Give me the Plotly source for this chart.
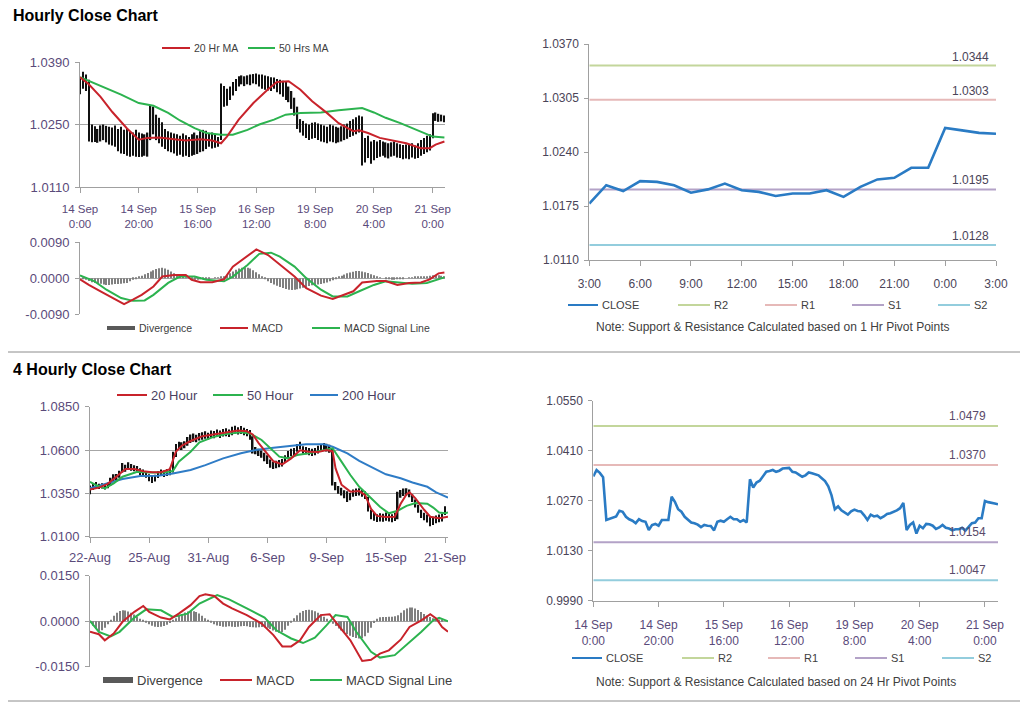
import plotly.graph_objects as go

W, H = 1024, 704
FONT = "Liberation Sans, Arial, sans-serif"
TICK_PURPLE = "#5a4a7a"
TICK_GREY = "#4a4458"
LEGEND_TXT = "#404040"
AXIS_GREY = "#a0a0a0"

RED = "#c8232b"
GREEN = "#2cb34f"
BLUE = "#2f7cc6"
CLOSE_BLUE = "#2a7bc4"
DIV_GREY = "#7f7f7f"

# ---------------- Hourly data: 14 Sep 0:00 ... 21 Sep 4:00 (one per hour) ----------------
hourly_close = [
    1.0338, 1.0356, 1.0348, 1.0336, 1.0216, 1.0220, 1.0223, 1.0226, 1.0242, 1.0239,
    1.0225, 1.0218, 1.0214, 1.0207, 1.0218, 1.0213, 1.0211, 1.0188, 1.0202, 1.0205,
    1.0200, 1.0216, 1.0216, 1.0216, 1.0281, 1.0267, 1.0246, 1.0239, 1.0225, 1.0216,
    1.0209, 1.0207, 1.0203, 1.0196, 1.0202, 1.0200, 1.0199, 1.0187, 1.0211, 1.0214,
    1.0211, 1.0218, 1.0225, 1.0218, 1.0218, 1.0211, 1.0216, 1.0209, 1.0330, 1.0307,
    1.0321, 1.0326, 1.0339, 1.0351, 1.0353, 1.0356, 1.0351, 1.0354, 1.0360, 1.0361,
    1.0362, 1.0351, 1.0349, 1.0343, 1.0337, 1.0341, 1.0349, 1.0347, 1.0345, 1.0341,
    1.0333, 1.0325, 1.0310, 1.0285, 1.0246, 1.0254, 1.0243, 1.0238, 1.0231, 1.0240,
    1.0245, 1.0241, 1.0240, 1.0229, 1.0216, 1.0231, 1.0226, 1.0228, 1.0221, 1.0226,
    1.0233, 1.0235, 1.0238, 1.0243, 1.0249, 1.0264, 1.0188, 1.0202, 1.0209, 1.0178,
    1.0200, 1.0193, 1.0205, 1.0204, 1.0200, 1.0191, 1.0195, 1.0202, 1.0194, 1.0192,
    1.0187, 1.0190, 1.0190, 1.0194, 1.0186, 1.0198, 1.0207, 1.0209, 1.0221, 1.0221,
    1.0269, 1.0266, 1.0263, 1.0262, 1.0260]
hourly_high = [
    1.0355, 1.0368, 1.0362, 1.0350, 1.0250, 1.0246, 1.0240, 1.0248, 1.0250, 1.0247,
    1.0245, 1.0243, 1.0248, 1.0240, 1.0245, 1.0238, 1.0242, 1.0235, 1.0232, 1.0238,
    1.0232, 1.0230, 1.0228, 1.0232, 1.0292, 1.0290, 1.0272, 1.0265, 1.0255, 1.0240,
    1.0235, 1.0232, 1.0230, 1.0228, 1.0225, 1.0230, 1.0226, 1.0222, 1.0228, 1.0232,
    1.0226, 1.0235, 1.0238, 1.0236, 1.0230, 1.0232, 1.0228, 1.0222, 1.0342, 1.0336,
    1.0330, 1.0335, 1.0345, 1.0352, 1.0358, 1.0360, 1.0358, 1.0360, 1.0362, 1.0363,
    1.0364, 1.0362, 1.0362, 1.0360, 1.0358, 1.0356, 1.0355, 1.0352, 1.0350, 1.0348,
    1.0345, 1.0335, 1.0325, 1.0310, 1.0290, 1.0262, 1.0258, 1.0252, 1.0250, 1.0254,
    1.0255, 1.0252, 1.0250, 1.0248, 1.0245, 1.0250, 1.0248, 1.0245, 1.0243, 1.0246,
    1.0250, 1.0252, 1.0258, 1.0262, 1.0266, 1.0270, 1.0268, 1.0220, 1.0225, 1.0212,
    1.0215, 1.0212, 1.0215, 1.0212, 1.0210, 1.0208, 1.0210, 1.0212, 1.0208, 1.0206,
    1.0204, 1.0205, 1.0204, 1.0208, 1.0203, 1.0208, 1.0215, 1.0220, 1.0225, 1.0228,
    1.0275, 1.0277, 1.0274, 1.0272, 1.0270]
hourly_low = [
    1.0318, 1.0330, 1.0325, 1.0212, 1.0210, 1.0211, 1.0209, 1.0212, 1.0215, 1.0210,
    1.0205, 1.0203, 1.0200, 1.0190, 1.0185, 1.0184, 1.0180, 1.0178, 1.0180, 1.0178,
    1.0177, 1.0178, 1.0180, 1.0178, 1.0215, 1.0228, 1.0215, 1.0208, 1.0200, 1.0195,
    1.0190, 1.0188, 1.0185, 1.0180, 1.0182, 1.0178, 1.0180, 1.0177, 1.0180, 1.0182,
    1.0184, 1.0188, 1.0190, 1.0195, 1.0200, 1.0196, 1.0198, 1.0200, 1.0215, 1.0290,
    1.0292, 1.0305, 1.0315, 1.0325, 1.0335, 1.0340, 1.0336, 1.0340, 1.0338, 1.0342,
    1.0340, 1.0335, 1.0330, 1.0328, 1.0326, 1.0325, 1.0330, 1.0322, 1.0318, 1.0312,
    1.0305, 1.0300, 1.0285, 1.0270, 1.0240, 1.0232, 1.0225, 1.0220, 1.0215, 1.0218,
    1.0220, 1.0215, 1.0212, 1.0210, 1.0208, 1.0212, 1.0210, 1.0208, 1.0210, 1.0212,
    1.0215, 1.0218, 1.0222, 1.0225, 1.0228, 1.0232, 1.0158, 1.0165, 1.0175, 1.0162,
    1.0170, 1.0175, 1.0178, 1.0180, 1.0176, 1.0174, 1.0178, 1.0180, 1.0176, 1.0175,
    1.0172, 1.0174, 1.0172, 1.0176, 1.0173, 1.0175, 1.0180, 1.0184, 1.0188, 1.0192,
    1.0219, 1.0258, 1.0256, 1.0257, 1.0255]
hourly_tick_pos = [0, 20, 40, 60, 80, 100, 120]
hourly_tick_labels = ["14 Sep<br>0:00", "14 Sep<br>20:00", "15 Sep<br>16:00", "16 Sep<br>12:00",
                      "19 Sep<br>8:00", "20 Sep<br>4:00", "21 Sep<br>0:00"]

ma20_hr_idx = [0, 3, 7, 11, 16, 20, 23, 27, 32, 36, 41, 45, 48, 50, 54, 59, 64, 67, 71, 75,
               79, 84, 88, 93, 95, 98, 102, 107, 111, 116, 119, 121, 124]
ma20_hr = [1.0356, 1.0340, 1.0312, 1.0278, 1.0241, 1.0216, 1.0220, 1.0221, 1.0217, 1.0214,
           1.0217, 1.0214, 1.0208, 1.0223, 1.0261, 1.0298, 1.0329, 1.0345, 1.0347, 1.0328,
           1.0302, 1.0276, 1.0253, 1.0235, 1.0237, 1.0231, 1.0220, 1.0214, 1.0208, 1.0197,
           1.0197, 1.0205, 1.0212]
ma50_hr_idx = [0, 7, 14, 20, 25, 30, 34, 39, 43, 48, 52, 57, 61, 66, 70, 75, 82, 88, 96, 100,
               104, 109, 113, 118, 120, 124]
ma50_hr = [1.0356, 1.0337, 1.0317, 1.0298, 1.0292, 1.0276, 1.0259, 1.0242, 1.0231, 1.0227,
           1.0227, 1.0238, 1.0250, 1.0261, 1.0272, 1.0276, 1.0277, 1.0282, 1.0287, 1.0277,
           1.0265, 1.0253, 1.0242, 1.0229, 1.0223, 1.0221]

macd_hr_idx = [0, 3, 7, 11, 15, 18, 21, 25, 28, 32, 36, 38, 41, 45, 49, 52, 56, 60, 64, 68,
               73, 77, 82, 86, 88, 93, 96, 101, 104, 108, 112, 116, 119, 122, 124]
macd_hr = [-0.0003, -0.0017, -0.0033, -0.0050, -0.0065, -0.0054, -0.0042, -0.0021, 0.0004, 0.0008,
           0.0008, -0.0004, -0.0010, -0.0010, -0.0003, 0.0029, 0.0050, 0.0072, 0.0058, 0.0033,
           0.0004, -0.0025, -0.0044, -0.0052, -0.0046, -0.0033, -0.0011, -0.0007, -0.0007, -0.0017,
           -0.0012, -0.0011, -0.0003, 0.0012, 0.0014]
signal_hr_idx = [0, 5, 9, 14, 18, 22, 25, 30, 34, 39, 43, 49, 52, 57, 61, 65, 68, 73, 77, 82,
                 86, 91, 95, 100, 104, 109, 113, 118, 124]
signal_hr = [0.0007, -0.0008, -0.0029, -0.0050, -0.0057, -0.0056, -0.0042, -0.0012, 0.0004, 0.0004,
             -0.0004, -0.0008, 0.0004, 0.0033, 0.0061, 0.0064, 0.0054, 0.0029, 0.0000, -0.0029,
             -0.0046, -0.0046, -0.0033, -0.0017, -0.0008, -0.0012, -0.0014, -0.0012, 0.0002]
divergence_hr = [
    0.0000, -0.0002, -0.0004, -0.0007, -0.0010, -0.0012, -0.0013, -0.0014, -0.0016, -0.0017,
    -0.0017, -0.0016, -0.0015, -0.0015, -0.0014, -0.0013, -0.0012, -0.0008, -0.0004, -0.0001,
    0.0003, 0.0006, 0.0010, 0.0013, 0.0017, 0.0020, 0.0023, 0.0025, 0.0026, 0.0024,
    0.0021, 0.0017, 0.0012, 0.0007, 0.0004, 0.0003, 0.0002, 0.0000, -0.0002, -0.0004,
    -0.0004, -0.0003, -0.0002, -0.0002, -0.0001, 0.0000, 0.0001, 0.0002, 0.0003, 0.0005,
    0.0008, 0.0012, 0.0017, 0.0021, 0.0024, 0.0026, 0.0027, 0.0026, 0.0024, 0.0020,
    0.0015, 0.0010, 0.0004, -0.0003, -0.0008, -0.0012, -0.0016, -0.0019, -0.0022, -0.0025,
    -0.0027, -0.0029, -0.0030, -0.0029, -0.0028, -0.0026, -0.0024, -0.0022, -0.0020, -0.0018,
    -0.0017, -0.0016, -0.0015, -0.0013, -0.0011, -0.0008, -0.0005, -0.0002, 0.0003, 0.0006,
    0.0009, 0.0012, 0.0014, 0.0016, 0.0018, 0.0018, 0.0017, 0.0015, 0.0013, 0.0010,
    0.0007, 0.0004, 0.0002, 0.0000, -0.0002, -0.0003, -0.0004, -0.0004, -0.0003, -0.0002,
    -0.0001, 0.0000, 0.0001, 0.0002, 0.0003, 0.0003, 0.0004, 0.0004, 0.0005, 0.0006,
    0.0007, 0.0008, 0.0007, 0.0006, 0.0005]

# ---------------- Last 24 hours (20 Sep 3:00 ... 21 Sep 3:00) ----------------
day_start = 99
day_tick_labels = ["3:00", "6:00", "9:00", "12:00", "15:00", "18:00", "21:00", "0:00", "3:00"]

# ---------------- Pivot points ----------------
pivot_names = ["R2", "R1", "S1", "S2"]
pivots_1h = [1.0344, 1.0303, 1.0195, 1.0128]
pivots_24h = [1.0479, 1.0370, 1.0154, 1.0047]
pivot_colors = ["#c3d69b", "#e6b9b8", "#b3a2c7", "#93cddd"]

# ---------------- 4-hourly data: 22 Aug ... 21 Sep ----------------
fourh_high = [
    1.0395, 1.0410, 1.0415, 1.0405, 1.0408, 1.0400, 1.0412, 1.0440, 1.0460, 1.0462,
    1.0480, 1.0525, 1.0515, 1.0530, 1.0520, 1.0512, 1.0508, 1.0495, 1.0488, 1.0478,
    1.0460, 1.0452, 1.0458, 1.0478, 1.0488, 1.0482, 1.0490, 1.0498, 1.0590, 1.0635,
    1.0648, 1.0645, 1.0650, 1.0675, 1.0690, 1.0695, 1.0688, 1.0698, 1.0702, 1.0708,
    1.0700, 1.0712, 1.0710, 1.0718, 1.0712, 1.0722, 1.0725, 1.0718, 1.0735, 1.0740,
    1.0732, 1.0738, 1.0728, 1.0722, 1.0715, 1.0680, 1.0618, 1.0608, 1.0598, 1.0585,
    1.0570, 1.0545, 1.0532, 1.0538, 1.0542, 1.0548, 1.0570, 1.0595, 1.0608, 1.0612,
    1.0635, 1.0648, 1.0622, 1.0618, 1.0612, 1.0608, 1.0612, 1.0625, 1.0635, 1.0640,
    1.0636, 1.0630, 1.0610, 1.0415, 1.0392, 1.0382, 1.0368, 1.0362, 1.0352, 1.0372,
    1.0378, 1.0380, 1.0372, 1.0362, 1.0330, 1.0255, 1.0240, 1.0230, 1.0235, 1.0232,
    1.0240, 1.0235, 1.0230, 1.0238, 1.0360, 1.0370, 1.0378, 1.0380, 1.0372, 1.0345,
    1.0315, 1.0285, 1.0255, 1.0238, 1.0228, 1.0220, 1.0215, 1.0222, 1.0228, 1.0232,
    1.0275]
fourh_low = [
    1.0345, 1.0370, 1.0380, 1.0375, 1.0378, 1.0372, 1.0380, 1.0395, 1.0420, 1.0425,
    1.0440, 1.0470, 1.0475, 1.0485, 1.0480, 1.0478, 1.0472, 1.0455, 1.0450, 1.0440,
    1.0420, 1.0410, 1.0418, 1.0438, 1.0452, 1.0445, 1.0450, 1.0455, 1.0470, 1.0560,
    1.0605, 1.0600, 1.0610, 1.0625, 1.0640, 1.0648, 1.0645, 1.0655, 1.0660, 1.0665,
    1.0660, 1.0670, 1.0668, 1.0675, 1.0670, 1.0678, 1.0680, 1.0675, 1.0685, 1.0695,
    1.0690, 1.0692, 1.0685, 1.0680, 1.0660, 1.0580, 1.0575, 1.0565, 1.0555, 1.0535,
    1.0520, 1.0498, 1.0490, 1.0495, 1.0500, 1.0505, 1.0525, 1.0550, 1.0565, 1.0570,
    1.0590, 1.0605, 1.0580, 1.0575, 1.0570, 1.0565, 1.0570, 1.0580, 1.0590, 1.0595,
    1.0592, 1.0585, 1.0395, 1.0368, 1.0348, 1.0338, 1.0322, 1.0300, 1.0310, 1.0330,
    1.0335, 1.0338, 1.0330, 1.0318, 1.0245, 1.0200, 1.0192, 1.0185, 1.0188, 1.0186,
    1.0192, 1.0188, 1.0184, 1.0190, 1.0200, 1.0325, 1.0335, 1.0338, 1.0328, 1.0300,
    1.0268, 1.0238, 1.0208, 1.0195, 1.0182, 1.0160, 1.0168, 1.0178, 1.0183, 1.0188,
    1.0225]
fourh_tick_pos = [0, 20, 40, 60, 80, 100, 120]
fourh_tick_labels = ["22-Aug", "25-Aug", "31-Aug", "6-Sep", "9-Sep", "15-Sep", "21-Sep"]

ma20_4h_idx = [0, 3, 6, 9, 12, 15, 18, 21, 24, 27, 29, 31, 34, 38, 42, 46, 50, 53, 55, 57,
               60, 62, 65, 68, 71, 74, 77, 80, 82, 83, 85, 88, 91, 93, 95, 97, 100, 103, 105, 107,
               108, 110, 113, 115, 118, 121]
ma20_4h = [1.0372, 1.0383, 1.0405, 1.0446, 1.0490, 1.0490, 1.0478, 1.0472, 1.0472, 1.0490,
           1.0590, 1.0625, 1.0652, 1.0680, 1.0692, 1.0702, 1.0712, 1.0708, 1.0690, 1.0640,
           1.0580, 1.0535, 1.0517, 1.0552, 1.0598, 1.0590, 1.0588, 1.0600, 1.0592, 1.0494,
           1.0400, 1.0360, 1.0363, 1.0340, 1.0260, 1.0220, 1.0213, 1.0215, 1.0290, 1.0345,
           1.0356, 1.0321, 1.0254, 1.0215, 1.0206, 1.0215]
ma50_4h_idx = [0, 2, 5, 8, 11, 16, 20, 25, 28, 30, 34, 37, 42, 46, 51, 54, 58, 61, 64, 67,
               70, 74, 79, 82, 85, 88, 91, 95, 98, 101, 104, 107, 110, 114, 116, 118, 120, 121]
ma50_4h = [1.0417, 1.0398, 1.0379, 1.0408, 1.0446, 1.0475, 1.0471, 1.0471, 1.0479, 1.0533,
           1.0590, 1.0644, 1.0677, 1.0692, 1.0702, 1.0696, 1.0658, 1.0610, 1.0562, 1.0552,
           1.0571, 1.0581, 1.0600, 1.0610, 1.0533, 1.0456, 1.0388, 1.0321, 1.0273, 1.0235,
           1.0250, 1.0278, 1.0294, 1.0290, 1.0268, 1.0240, 1.0236, 1.0240]
ma200_4h_idx = [0, 6, 11, 17, 23, 28, 34, 39, 45, 51, 56, 62, 68, 73, 79, 82, 87, 91, 96, 100,
                105, 109, 114, 117, 121]
ma200_4h = [1.0379, 1.0408, 1.0433, 1.0450, 1.0452, 1.0465, 1.0485, 1.0513, 1.0552, 1.0581,
            1.0600, 1.0613, 1.0625, 1.0633, 1.0633, 1.0619, 1.0581, 1.0537, 1.0494, 1.0460,
            1.0437, 1.0413, 1.0388, 1.0356, 1.0325]

macd_4h_idx = [0, 3, 5, 8, 11, 15, 18, 20, 24, 27, 30, 34, 37, 39, 42, 45, 48, 53, 58, 62,
               65, 68, 71, 74, 78, 81, 83, 88, 92, 95, 98, 101, 105, 108, 112, 115, 117, 119, 121]
macd_4h = [-0.0035, -0.0043, -0.0063, -0.0041, -0.0002, 0.0031, 0.0050, 0.0031, 0.0012, 0.0006,
           0.0025, 0.0053, 0.0083, 0.0089, 0.0083, 0.0058, 0.0042, 0.0020, -0.0008, -0.0046,
           -0.0083, -0.0083, -0.0063, -0.0019, 0.0020, 0.0023, -0.0002, -0.0063, -0.0131, -0.0127,
           -0.0107, -0.0096, -0.0061, -0.0019, 0.0003, 0.0023, 0.0009, -0.0019, -0.0035]
signal_4h_idx = [0, 3, 7, 10, 15, 19, 24, 28, 33, 37, 43, 47, 53, 59, 63, 68, 72, 76, 80, 83,
                 87, 90, 95, 98, 103, 107, 112, 116, 118, 121]
signal_4h = [0.0001, -0.0035, -0.0050, -0.0035, 0.0012, 0.0039, 0.0036, 0.0014, 0.0025, 0.0058,
             0.0086, 0.0072, 0.0042, 0.0012, -0.0030, -0.0057, -0.0072, -0.0054, -0.0013, 0.0020,
             0.0014, -0.0035, -0.0101, -0.0120, -0.0112, -0.0079, -0.0035, 0.0003, 0.0011, 0.0000]
divergence_4h = [
    -0.0005, -0.0015, -0.0025, -0.0032, -0.0030, -0.0022, -0.0010, 0.0005, 0.0018, 0.0028,
    0.0034, 0.0036, 0.0035, 0.0032, 0.0028, 0.0022, 0.0015, 0.0008, 0.0002, -0.0004,
    -0.0010, -0.0015, -0.0018, -0.0019, -0.0018, -0.0016, -0.0012, -0.0006, 0.0002, 0.0010,
    0.0018, 0.0024, 0.0029, 0.0032, 0.0034, 0.0033, 0.0030, 0.0025, 0.0018, 0.0010,
    0.0003, -0.0004, -0.0010, -0.0014, -0.0016, -0.0018, -0.0018, -0.0017, -0.0018, -0.0019,
    -0.0018, -0.0017, -0.0016, -0.0017, -0.0019, -0.0020, -0.0021, -0.0020, -0.0019, -0.0020,
    -0.0022, -0.0026, -0.0031, -0.0035, -0.0038, -0.0036, -0.0028, -0.0015, -0.0002, 0.0010,
    0.0020, 0.0028, 0.0034, 0.0037, 0.0038, 0.0036, 0.0033, 0.0028, 0.0022, 0.0015,
    0.0008, 0.0001, -0.0008, -0.0016, -0.0024, -0.0031, -0.0037, -0.0043, -0.0048, -0.0052,
    -0.0055, -0.0057, -0.0056, -0.0050, -0.0038, -0.0022, -0.0006, 0.0008, 0.0013, 0.0014,
    0.0014, 0.0015, 0.0015, 0.0016, 0.0020, 0.0028, 0.0036, 0.0042, 0.0045, 0.0045,
    0.0042, 0.0037, 0.0030, 0.0024, 0.0019, 0.0014, 0.0010, 0.0008, 0.0006, 0.0003,
    0.0000]

# ---------------- helpers ----------------
hour_idx = list(range(len(hourly_close)))
fourh_idx = list(range(len(fourh_high)))
day_close = hourly_close[day_start:day_start + 25]
day_idx = list(range(len(day_close)))


def px(x):
    return x / W


def py(y):
    return 1 - y / H


fig = go.Figure()


def line(x, y, color, ax, width=2.0):
    fig.add_trace(go.Scatter(x=x, y=y, mode="lines", line=dict(color=color, width=width),
                             xaxis="x" + ax, yaxis="y" + ax, hoverinfo="skip", showlegend=False))


def hl_bars(x, hi, lo, ax, width):
    fig.add_trace(go.Bar(x=x, y=[h - l for h, l in zip(hi, lo)], base=lo, width=width,
                         marker=dict(color="#111111", line=dict(width=0)),
                         xaxis="x" + ax, yaxis="y" + ax, hoverinfo="skip", showlegend=False))


def div_bars(x, y, ax, width):
    fig.add_trace(go.Bar(x=x, y=y, width=width, marker=dict(color=DIV_GREY, line=dict(width=0)),
                         xaxis="x" + ax, yaxis="y" + ax, hoverinfo="skip", showlegend=False))


# Top-left: hourly bars + MAs
hl_bars(hour_idx, hourly_high, hourly_low, "", 0.45)
line(ma50_hr_idx, ma50_hr, GREEN, "")
line(ma20_hr_idx, ma20_hr, RED, "")
# Top-left MACD
div_bars(hour_idx, divergence_hr, "2", 0.35)
line(signal_hr_idx, signal_hr, GREEN, "2")
line(macd_hr_idx, macd_hr, RED, "2")
# Top-right: 24h close with 1h pivots
for v, c in zip(pivots_1h, pivot_colors):
    line([day_idx[0], day_idx[-1]], [v, v], c, "3", 2)
line(day_idx, day_close, CLOSE_BLUE, "3", 2.6)
# Bottom-left: 4 hourly bars + MAs
hl_bars(fourh_idx, fourh_high, fourh_low, "4", 0.5)
line(ma200_4h_idx, ma200_4h, BLUE, "4")
line(ma50_4h_idx, ma50_4h, GREEN, "4")
line(ma20_4h_idx, ma20_4h, RED, "4")
# Bottom-left MACD
div_bars(fourh_idx, divergence_4h, "5", 0.35)
line(signal_4h_idx, signal_4h, GREEN, "5")
line(macd_4h_idx, macd_4h, RED, "5")
# Bottom-right: hourly close with 24h pivots
for v, c in zip(pivots_24h, pivot_colors):
    line([hour_idx[0], hour_idx[-1]], [v, v], c, "6", 2)
line(hour_idx, hourly_close, CLOSE_BLUE, "6", 2.6)


def xax(dom, rng, anchor, tickvals=None, ticktext=None, show=True, size=12, color=TICK_PURPLE,
        standoff=4):
    d = dict(domain=[px(dom[0]), px(dom[1])], range=rng, showgrid=False, zeroline=False,
             fixedrange=True, automargin=False, anchor=anchor)
    if show:
        d.update(tickmode="array", tickvals=tickvals, ticktext=ticktext, ticks="outside", ticklen=5,
                 tickcolor=AXIS_GREY, showline=True, linecolor=AXIS_GREY, linewidth=1,
                 tickfont=dict(family=FONT, size=size, color=color), ticklabelstandoff=standoff)
    else:
        d.update(showticklabels=False, ticks="", showline=False)
    return d


def yax(dom, rng, tickvals, ticktext, anchor, grid=True, size=12, color=TICK_PURPLE):
    return dict(domain=[py(dom[1]), py(dom[0])], range=rng, tickmode="array", tickvals=tickvals,
                ticktext=ticktext, showgrid=grid, gridcolor="#a6a6a6", gridwidth=1, zeroline=False,
                showline=True, linecolor=AXIS_GREY, linewidth=1, ticks="outside", ticklen=4,
                tickcolor=AXIS_GREY, tickfont=dict(family=FONT, size=size, color=color),
                anchor=anchor, fixedrange=True, automargin=False, ticklabelstandoff=3)


def fmt(vals):
    return [("-" if v < 0 else "") + f"{abs(v):.4f}" for v in vals]


y1_ticks = [1.0110, 1.0250, 1.0390]
y2_ticks = [-0.0090, 0.0, 0.0090]
y3_ticks = [1.0110, 1.0175, 1.0240, 1.0305, 1.0370]
y4_ticks = [1.0100, 1.0350, 1.0600, 1.0850]
y5_ticks = [-0.0150, 0.0, 0.0150]
y6_ticks = [0.9990, 1.0130, 1.0270, 1.0410, 1.0550]

fig.update_layout(
    template="none",
    width=W, height=H, margin=dict(l=0, r=0, t=0, b=0, pad=0, autoexpand=False),
    paper_bgcolor="white", plot_bgcolor="white", showlegend=False, barmode="overlay",
    xaxis=xax((80, 445), [0, 124.2], "y", hourly_tick_pos, hourly_tick_labels, size=11.5, standoff=6),
    yaxis=yax((62, 187), [1.0110, 1.0390], y1_ticks, fmt(y1_ticks), "x", size=13),
    xaxis2=xax((80, 445), [0, 124.2], "y2", show=False),
    yaxis2=yax((242.3, 314), [-0.0090, 0.0090], y2_ticks, fmt(y2_ticks), "x2", size=13),
    xaxis3=xax((589.3, 996), [0, 24], "y3", list(range(0, 25, 3)), day_tick_labels, size=12,
               color=TICK_GREY, standoff=8),
    yaxis3=yax((44, 260), [1.0110, 1.0370], y3_ticks, fmt(y3_ticks), "x3", grid=False, size=12,
               color=TICK_GREY),
    xaxis4=xax((90, 448), [0, 121], "y4", fourh_tick_pos, fourh_tick_labels, size=13, standoff=4),
    yaxis4=yax((406.7, 536.7), [1.0100, 1.0850], y4_ticks, fmt(y4_ticks), "x4", size=13),
    xaxis5=xax((90, 448), [0, 121], "y5", show=False),
    yaxis5=yax((575.7, 666.7), [-0.0150, 0.0150], y5_ticks, fmt(y5_ticks), "x5", size=13),
    xaxis6=xax((593.3, 998), [0, 124], "y6", hourly_tick_pos, hourly_tick_labels, size=12, standoff=8),
    yaxis6=yax((400.7, 600.7), [0.9990, 1.0550], y6_ticks, fmt(y6_ticks), "x6", grid=False, size=12,
               color=TICK_GREY),
)

shapes = []
annotations = []


def leg_line(x0, x1, y, color, width=2):
    shapes.append(dict(type="line", xref="paper", yref="paper", x0=px(x0), x1=px(x1),
                       y0=py(y), y1=py(y), line=dict(color=color, width=width)))


def leg_text(x, y, text, size, color=LEGEND_TXT, anchor="left"):
    annotations.append(dict(xref="paper", yref="paper", x=px(x), y=py(y), text=text,
                            showarrow=False, xanchor=anchor, yanchor="middle",
                            font=dict(family=FONT, size=size, color=color)))


# titles
annotations.append(dict(xref="paper", yref="paper", x=px(11), y=py(16), text="<b>Hourly Close Chart</b>",
                        showarrow=False, xanchor="left", yanchor="middle",
                        font=dict(family=FONT, size=16, color="black")))
annotations.append(dict(xref="paper", yref="paper", x=px(11), y=py(369), text="<b>4 Hourly Close Chart</b>",
                        showarrow=False, xanchor="left", yanchor="middle",
                        font=dict(family=FONT, size=16, color="black")))

# separators
for yy in (352, 701):
    shapes.append(dict(type="line", xref="paper", yref="paper", x0=px(8), x1=px(1020),
                       y0=py(yy), y1=py(yy), line=dict(color="#8c8c8c", width=1)))

# Top-left legends
leg_line(162, 190, 48, RED)
leg_text(192, 48, "20 Hr MA", 10.5)
leg_line(248, 275, 48, GREEN)
leg_text(277, 48, "50 Hrs MA", 10.5)
leg_line(107, 135, 328, "#595959", 4)
leg_text(137, 328, "Divergence", 10.5)
leg_line(220, 248, 328, RED)
leg_text(250, 328, "MACD", 10.5)
leg_line(312, 340, 328, GREEN)
leg_text(342, 328, "MACD Signal Line", 10.5)

# Top-right legend
leg_line(568, 598, 305, CLOSE_BLUE)
leg_text(600, 305, "CLOSE", 11)
for (x0, name), c in zip([(678, "R2"), (765, "R1"), (852, "S1"), (938, "S2")], pivot_colors):
    leg_line(x0, x0 + 32, 305, c)
    leg_text(x0 + 34, 305, name, 11)
leg_text(773, 327, "Note: Support &amp; Resistance Calculated based on 1 Hr Pivot Points", 12,
         anchor="center")

# Bottom-left legends
leg_line(117, 147, 395, RED)
leg_text(149, 395, "20 Hour", 13, color="#4a3f5f")
leg_line(213, 243, 395, GREEN)
leg_text(245, 395, "50 Hour", 13, color="#4a3f5f")
leg_line(310, 338, 395, BLUE)
leg_text(340, 395, "200 Hour", 13, color="#4a3f5f")
leg_line(103, 133, 680, "#595959", 6)
leg_text(135, 680, "Divergence", 13)
leg_line(220, 252, 680, RED)
leg_text(254, 680, "MACD", 13)
leg_line(310, 342, 680, GREEN)
leg_text(344, 680, "MACD Signal Line", 13)

# Bottom-right legend
leg_line(572, 602, 658, CLOSE_BLUE)
leg_text(604, 658, "CLOSE", 11)
for (x0, name), c in zip([(682, "R2"), (768, "R1"), (855, "S1"), (942, "S2")], pivot_colors):
    leg_line(x0, x0 + 32, 658, c)
    leg_text(x0 + 34, 658, name, 11)
leg_text(776, 682, "Note: Support &amp; Resistance Calculated based on 24 Hr Pivot Points", 12,
         anchor="center")

# Pivot value labels
for v in pivots_1h:
    annotations.append(dict(xref="x3", yref="y3", x=day_idx[-1], y=v, text=f"{v:.4f}",
                            showarrow=False, xanchor="right", yanchor="middle", xshift=-5, yshift=9,
                            font=dict(family=FONT, size=12, color=TICK_GREY)))
for v in pivots_24h:
    annotations.append(dict(xref="x6", yref="y6", x=hour_idx[-1], y=v, text=f"{v:.4f}",
                            showarrow=False, xanchor="right", yanchor="middle", xshift=-10, yshift=10,
                            font=dict(family=FONT, size=12, color="#5a4a6a")))

fig.update_layout(shapes=shapes, annotations=annotations)
fig.write_html("out.html", config={"displayModeBar": False},
               post_script="document.body.style.margin='0px';document.body.style.overflow='hidden';")
